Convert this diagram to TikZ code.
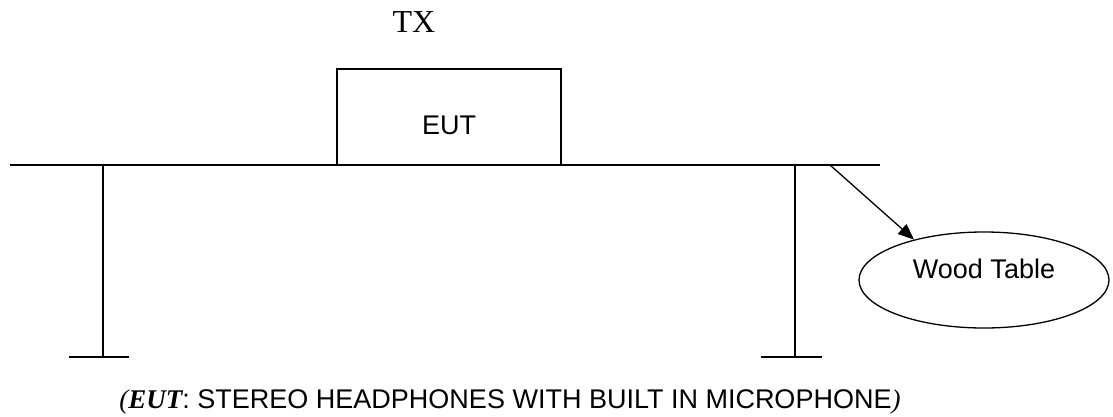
\documentclass[tikz,border=0pt]{standalone}
\usepackage{fontspec}
\setmainfont{Liberation Serif}
\setsansfont{Liberation Sans}
\usetikzlibrary{shapes.geometric,arrows.meta}
\begin{document}
\begin{tikzpicture}[x=1pt,y=-1pt,
  thin line/.style={line width=1.3pt},
  thick line/.style={line width=2pt},
  labeltext/.style={font=\sffamily\fontsize{27}{31}\selectfont}]
\useasboundingbox (0,0) rectangle (1113,416);
% TX label
\node[font=\rmfamily\fontsize{32}{36}\selectfont, inner sep=0pt] (tx) at (414,22) {TX};
% EUT box
\node[draw, thin line, minimum width=224pt, minimum height=96pt, inner sep=0pt,
      labeltext, text height=35pt, text depth=0pt] (eut) at (449,117) {EUT};
% table top
\coordinate (tl) at (10,165);
\coordinate (tr) at (880,165);
\draw[thick line] (tl) -- (tr);
% legs
\coordinate (l1) at (103,165); \coordinate (l2) at (103,357);
\coordinate (lf1) at (69,357); \coordinate (lf2) at (129,357);
\coordinate (r1) at (795,165); \coordinate (r2) at (795,357);
\coordinate (rf1) at (761,357); \coordinate (rf2) at (822,357);
\draw[thin line] (l1) -- (l2);
\draw[thin line] (r1) -- (r2);
\draw[thick line] (lf1) -- (lf2);
\draw[thick line] (rf1) -- (rf2);
% wood table ellipse
\node[draw, ellipse, thin line, minimum width=250pt, minimum height=96pt, inner sep=0pt,
      labeltext, text height=19pt, text depth=22pt] (wood) at (984,280) {Wood Table};
\coordinate (as) at (830,165);
\draw[thin line, -{Triangle[length=16pt,width=13pt]}] (as) -- (wood.150);
% caption
\node[labeltext, anchor=base, inner sep=0pt] (cap) at (510,408)
  {{\rmfamily\itshape(}{\rmfamily\bfseries\itshape EUT}: STEREO HEADPHONES WITH BUILT IN MICROPHONE{\rmfamily\itshape)}};
\end{tikzpicture}
\end{document}
